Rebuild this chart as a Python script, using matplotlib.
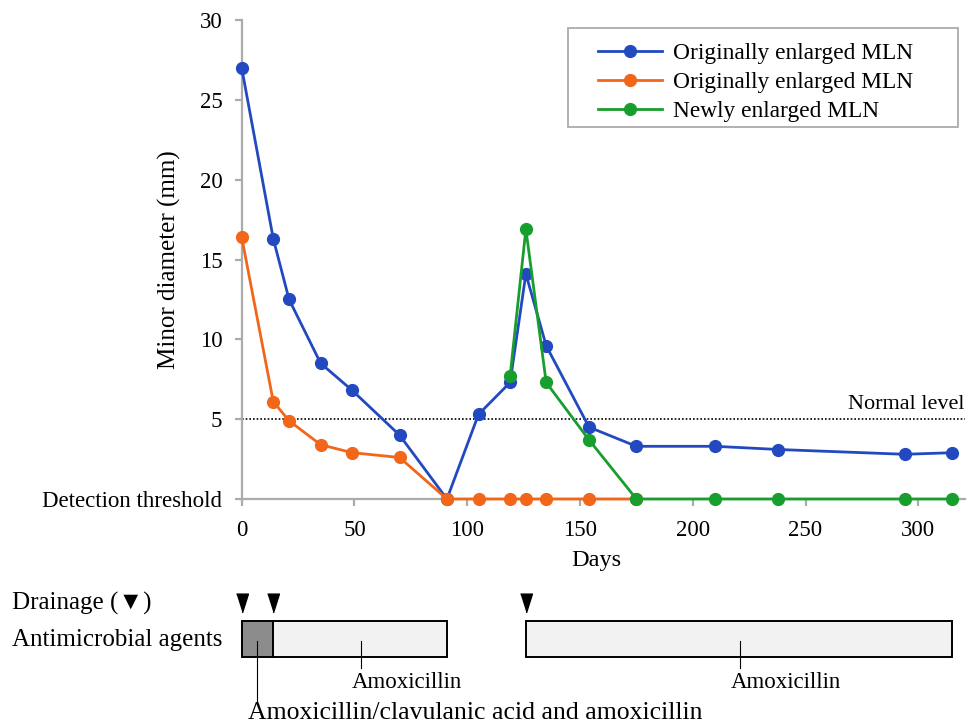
import matplotlib
matplotlib.use("Agg")
import matplotlib.pyplot as plt
from matplotlib.patches import Rectangle

plt.rcParams['font.family'] = ['Liberation Serif', 'DejaVu Sans']

# measured lymph node sizes
days_blue = [0, 14, 21, 35, 49, 70, 91, 105, 119, 126, 135, 154, 175, 210, 238, 294, 315]
blue_mm = [27.0, 16.3, 12.5, 8.5, 6.8, 4.0, 0, 5.3, 7.3, 14.1, 9.6, 4.5, 3.3, 3.3, 3.1, 2.8, 2.9]

days_orange = [0, 14, 21, 35, 49, 70, 91, 105, 119, 126, 135, 154, 175]
orange_mm = [16.4, 6.1, 4.9, 3.4, 2.9, 2.6, 0, 0, 0, 0, 0, 0, 0]

days_green = [119, 126, 135, 154, 175, 210, 238, 294, 315]
green_mm = [7.7, 16.9, 7.3, 3.7, 0, 0, 0, 0, 0]

series_labels = ["Originally enlarged MLN", "Originally enlarged MLN", "Newly enlarged MLN"]
colors = ["#2249C0", "#F2661A", "#189E2E"]

normal_level = 5
y_ticks = [0, 5, 10, 15, 20, 25, 30]
y_ticklabels = ["Detection threshold", "5", "10", "15", "20", "25", "30"]
x_ticks = [0, 50, 100, 150, 200, 250, 300]

# treatment timeline
drainage_days = [0, 14, 126]
regimens = [(0, 14, "#8C8C8C"), (14, 91, "#F2F2F2"), (126, 315, "#F2F2F2")]
# (day of leader line, text, end of line, text baseline, font size)
callouts = [(7, "Amoxicillin/clavulanic acid and amoxicillin", 703, 719, 18.5),
            (53, "Amoxicillin", 668, 688, 16.5),
            (221, "Amoxicillin", 668, 688, 16.5)]

W, H = 968, 725
fig = plt.figure(figsize=(W / 100, H / 100), dpi=100)

x0, x1 = 241.7, 965
y_top, y_bot = 20, 499
ax = fig.add_axes([x0 / W, 1 - y_bot / H, (x1 - x0) / W, (y_bot - y_top) / H])
xmax = 320.7

grey = "#ABABAB"
for d, v, c, lab in zip([days_blue, days_orange, days_green],
                        [blue_mm, orange_mm, green_mm], colors, series_labels):
    ax.plot(d, v, color=c, lw=2.0, marker='o', ms=8.5, label=lab, clip_on=False, zorder=3)

ax.axhline(normal_level, color='black', ls=(0, (1, 1.2)), lw=1.2, zorder=2)
ax.text(xmax, normal_level + 0.3, "Normal level", ha='right', va='bottom', fontsize=16)

ax.set_xlim(0, xmax)
ax.set_ylim(0, 30)
ax.set_xticks(x_ticks)
ax.set_yticks(y_ticks)
ax.set_yticklabels(y_ticklabels)
for s in ['top', 'right']:
    ax.spines[s].set_visible(False)
for s in ['left', 'bottom']:
    ax.spines[s].set_color(grey)
    ax.spines[s].set_linewidth(1.6)
ax.tick_params(axis='both', colors=grey, labelcolor='black', labelsize=16.5, width=1.6, length=5)
ax.tick_params(axis='y', pad=9)
ax.tick_params(axis='x', pad=10)

ax.set_ylabel("Minor diameter (mm)", fontsize=18)
ax.yaxis.set_label_coords(-0.084, 0.5)
ax.set_xlabel("Days", fontsize=17.5)
ax.xaxis.set_label_coords(0.49, -0.106)

leg = ax.legend(loc='upper left', bbox_to_anchor=(598 / W, 1 - 43 / H),
                bbox_transform=fig.transFigure, fontsize=16.8, frameon=False,
                handlelength=2.75, labelspacing=0.32, borderpad=0,
                handletextpad=0.45, borderaxespad=0)
fig.patches.append(Rectangle((568 / W, 1 - 127 / H), 390 / W, 99 / H,
                             transform=fig.transFigure, facecolor='none',
                             edgecolor=grey, lw=1.3))

# timeline panel below, y in pixel rows
ax2 = fig.add_axes([x0 / W, 0, (x1 - x0) / W, 140 / H])
ax2.set_xlim(0, xmax)
ax2.set_ylim(725, 585)
ax2.axis('off')

tri = [(-6, 9.5), (6, 9.5), (0, -9.5)]
ax2.plot(drainage_days, [603] * len(drainage_days), ls='none', marker=tri, ms=13.5,
         color='black', clip_on=False)

for start, end, fc in regimens:
    ax2.add_patch(Rectangle((start, 620.5), end - start, 36, facecolor=fc,
                            edgecolor='black', lw=1.4, clip_on=False))

for day, txt, yend, ybase, fs in callouts:
    ax2.plot([day, day], [641, yend], color='black', lw=0.8, clip_on=False)
    ax2.text(day - 4, ybase, txt, ha='left', va='baseline', fontsize=fs)

fig.text(12 / W, 1 - 603 / H, "Drainage (\u25bc)", ha='left', va='center', fontsize=18)
fig.text(12 / W, 1 - 640 / H, "Antimicrobial agents", ha='left', va='center', fontsize=18)

fig.savefig("out.png", dpi=100)
